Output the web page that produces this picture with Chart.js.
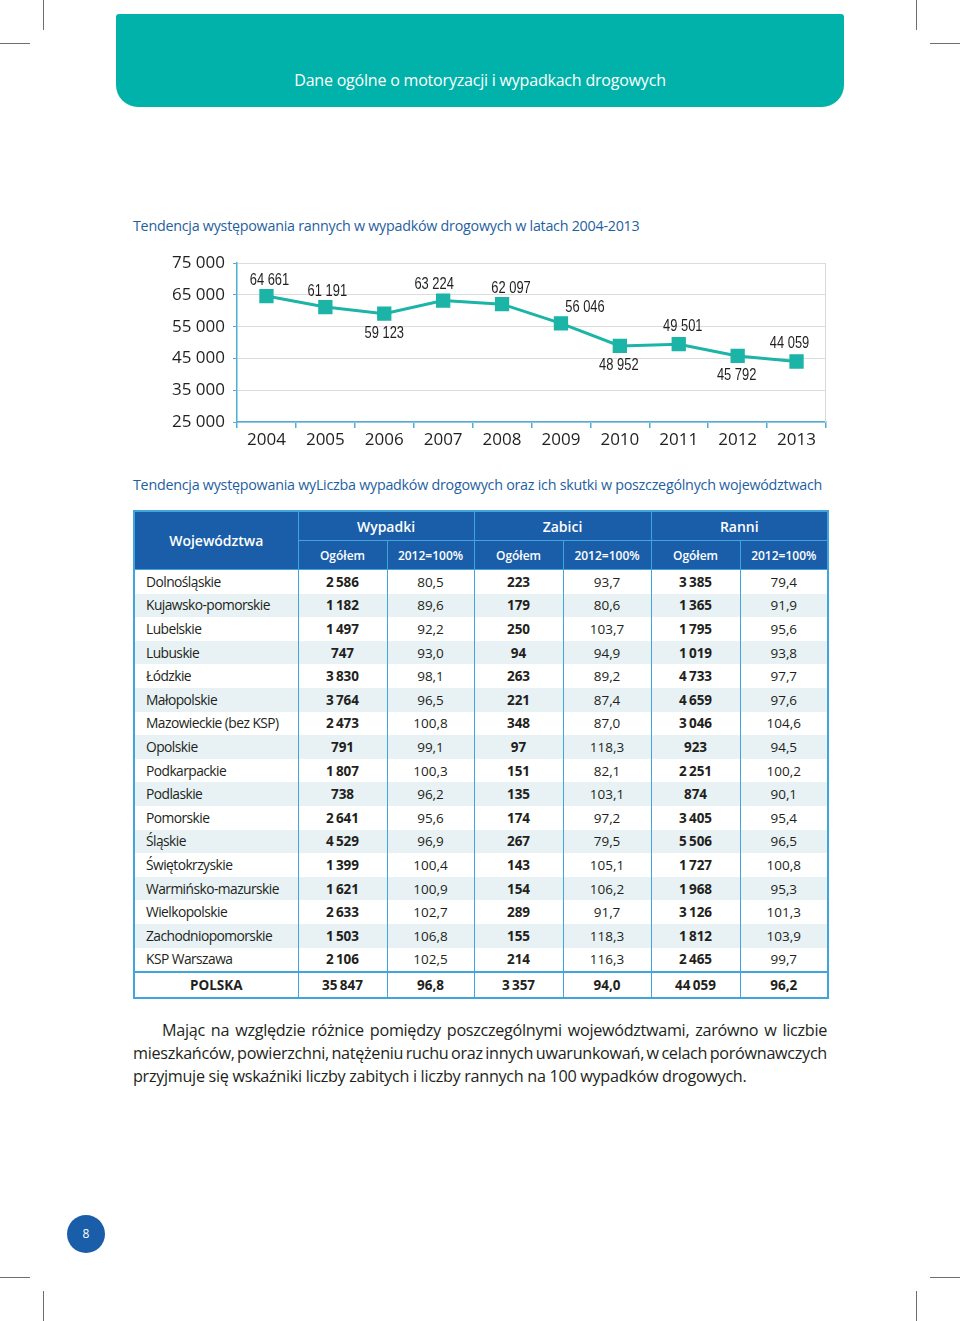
<!DOCTYPE html>
<html lang="pl">
<head>
<meta charset="utf-8">
<title>Dane ogólne o motoryzacji i wypadkach drogowych</title>
<script src="https://cdn.jsdelivr.net/npm/chart.js@4"></script>
<style>
  html, body { margin: 0; padding: 0; background: #fff; }
  body { width: 960px; height: 1321px; position: relative; overflow: hidden;
         font-family: "Open Sans", "Noto Sans", sans-serif; color: #231f20; }
  .crop { position: absolute; background: #6d6e71; }
  .banner { position: absolute; left: 116px; top: 14px; width: 728px; height: 93px;
            background: #00b2a9; border-radius: 3px 3px 22px 22px; }
  .banner span { position: absolute; left: 0; right: 0; top: 55px; text-align: center;
                 color: #fff; font-size: 16px; letter-spacing: -0.2px; }
  .title { position: absolute; left: 133px; color: #1f5f9f; font-size: 14.3px; letter-spacing: -0.25px; white-space: nowrap; }
  #chartBox { position: absolute; left: 133px; top: 245px; width: 697px; height: 215px; }
  table { position: absolute; left: 133px; top: 510px; width: 694px; border-collapse: collapse;
          table-layout: fixed; font-size: 13.5px; border: 2px solid #41a4dd; }
  th, td { border-left: 1.5px solid #41a4dd; border-right: 1.5px solid #41a4dd; padding: 0; text-align: center; }
  thead th { background: #1a5ea9; color: #fff; border: 1.5px solid #41a4dd; height: 28px; }
  thead tr:first-child th { font-size: 14px; font-weight: 600; }
  thead tr:nth-child(2) th { font-size: 12px; font-weight: 600; }
  tbody td { height: 23.6px; line-height: 16px; }
  tbody tr:nth-child(even) td { background: #e8f2f4; }
  tbody td:first-child { text-align: left; padding-left: 11px; font-size: 13.8px; letter-spacing: -0.55px; }
  td.b { font-weight: 700; }
  tfoot td { height: 24px; font-weight: 700; border-top: 2px solid #41a4dd; }
  .para { position: absolute; left: 133px; top: 1019px; width: 694px; font-size: 16.2px; line-height: 23px; letter-spacing: -0.3px; }
  .para span { display: block; text-align: justify; text-align-last: justify; white-space: nowrap; }
  .para span.first { text-indent: 29px; }
  .para span.tight { word-spacing: -1.6px; }
  .para span.last { text-align-last: left; }
  .pagenum { position: absolute; left: 67px; top: 1215px; width: 38px; height: 38px; border-radius: 50%;
             background: #1a5ea9; color: #fff; font-size: 12px; text-align: center; line-height: 38px; }
</style>
</head>
<body>
<div class="crop" style="left:43px;top:0;width:1px;height:30px"></div>
<div class="crop" style="left:0;top:43px;width:30px;height:1px"></div>
<div class="crop" style="left:916px;top:0;width:1px;height:30px"></div>
<div class="crop" style="left:930px;top:43px;width:30px;height:1px"></div>
<div class="crop" style="left:43px;top:1291px;width:1px;height:30px"></div>
<div class="crop" style="left:0;top:1277px;width:30px;height:1px"></div>
<div class="crop" style="left:916px;top:1291px;width:1px;height:30px"></div>
<div class="crop" style="left:930px;top:1277px;width:30px;height:1px"></div>

<div class="banner"><span>Dane ogólne o motoryzacji i wypadkach drogowych</span></div>

<div class="title" style="top:216px">Tendencja występowania rannych w wypadków drogowych w latach 2004-2013</div>
<div id="chartBox"><canvas id="injuredChart"></canvas></div>

<div class="title" style="top:475px">Tendencja występowania wyLiczba wypadków drogowych oraz ich skutki w poszczególnych województwach</div>
<table id="voivTable">
  <colgroup>
    <col style="width:164px"><col style="width:89px"><col style="width:87px"><col style="width:89px">
    <col style="width:88px"><col style="width:89px"><col style="width:88px">
  </colgroup>
  <thead>
    <tr><th rowspan="2">Województwa</th><th colspan="2">Wypadki</th><th colspan="2">Zabici</th><th colspan="2">Ranni</th></tr>
    <tr><th>Ogółem</th><th>2012=100%</th><th>Ogółem</th><th>2012=100%</th><th>Ogółem</th><th>2012=100%</th></tr>
  </thead>
  <tbody></tbody>
  <tfoot></tfoot>
</table>

<div class="para">
  <span class="first">Mając na względzie różnice pomiędzy poszczególnymi województwami, zarówno w liczbie</span>
  <span class="tight">mieszkańców, powierzchni, natężeniu ruchu oraz innych uwarunkowań, w celach porównawczych</span>
  <span class="last">przyjmuje się wskaźniki liczby zabitych i liczby rannych na 100 wypadków drogowych.</span>
</div>

<div class="pagenum">8</div>

<script>
// dane do wykresu
const years = ['2004', '2005', '2006', '2007', '2008', '2009', '2010', '2011', '2012', '2013'];
const injured = [64661, 61191, 59123, 63224, 62097, 56046, 48952, 49501, 45792, 44059];
const yTicks = [25000, 35000, 45000, 55000, 65000, 75000];

// dane do tabeli
const regions = ['Dolnośląskie', 'Kujawsko-pomorskie', 'Lubelskie', 'Lubuskie', 'Łódzkie', 'Małopolskie',
    'Mazowieckie (bez KSP)', 'Opolskie', 'Podkarpackie', 'Podlaskie', 'Pomorskie', 'Śląskie',
    'Świętokrzyskie', 'Warmińsko-mazurskie', 'Wielkopolskie', 'Zachodniopomorskie', 'KSP Warszawa'];
const accidents = [2586, 1182, 1497, 747, 3830, 3764, 2473, 791, 1807, 738, 2641, 4529, 1399, 1621, 2633, 1503, 2106];
const accidentsIdx = [80.5, 89.6, 92.2, 93.0, 98.1, 96.5, 100.8, 99.1, 100.3, 96.2, 95.6, 96.9, 100.4, 100.9, 102.7, 106.8, 102.5];
const killed = [223, 179, 250, 94, 263, 221, 348, 97, 151, 135, 174, 267, 143, 154, 289, 155, 214];
const killedIdx = [93.7, 80.6, 103.7, 94.9, 89.2, 87.4, 87.0, 118.3, 82.1, 103.1, 97.2, 79.5, 105.1, 106.2, 91.7, 118.3, 116.3];
const wounded = [3385, 1365, 1795, 1019, 4733, 4659, 3046, 923, 2251, 874, 3405, 5506, 1727, 1968, 3126, 1812, 2465];
const woundedIdx = [79.4, 91.9, 95.6, 93.8, 97.7, 97.6, 104.6, 94.5, 100.2, 90.1, 95.4, 96.5, 100.8, 95.3, 101.3, 103.9, 99.7];
const total = ['POLSKA', 35847, 96.8, 3357, 94.0, 44059, 96.2];

function fmtInt(v) {
    return String(v).replace(/\B(?=(\d{3})+(?!\d))/g, '\u2009');
}
function fmtSpace(v) {
    return String(v).replace(/\B(?=(\d{3})+(?!\d))/g, ' ');
}
function fmtDec(v) {
    return v.toFixed(1).replace('.', ',');
}

// tabela
let tbody = document.querySelector('#voivTable tbody');
regions.forEach(function (name, i) {
    let tr = document.createElement('tr');
    tr.innerHTML = '<td>' + name + '</td>' +
        '<td class="b">' + fmtInt(accidents[i]) + '</td><td>' + fmtDec(accidentsIdx[i]) + '</td>' +
        '<td class="b">' + fmtInt(killed[i]) + '</td><td>' + fmtDec(killedIdx[i]) + '</td>' +
        '<td class="b">' + fmtInt(wounded[i]) + '</td><td>' + fmtDec(woundedIdx[i]) + '</td>';
    tbody.appendChild(tr);
});
let foot = document.createElement('tr');
foot.innerHTML = total.map(function (v, i) {
    if (i === 0) return '<td style="text-align:center;padding:0">' + v + '</td>';
    return '<td>' + (i % 2 ? fmtInt(v) : fmtDec(v)) + '</td>';
}).join('');
document.querySelector('#voivTable tfoot').appendChild(foot);

// etykiety wartości nad/pod punktami + prawa krawędź wykresu
const pointLabels = {
    id: 'pointLabels',
    beforeDatasetsDraw(chart) {
        let ctx = chart.ctx, a = chart.chartArea;
        ctx.save();
        ctx.strokeStyle = '#d9d9d9';
        ctx.lineWidth = 1;
        ctx.beginPath();
        ctx.moveTo(a.right - 0.5, a.top);
        ctx.lineTo(a.right - 0.5, a.bottom);
        ctx.stroke();
        ctx.restore();
    },
    afterDatasetsDraw(chart, args, opts) {
        let ctx = chart.ctx;
        let meta = chart.getDatasetMeta(0);
        meta.data.forEach(function (pt, i) {
            let off = opts.offsets[i];
            ctx.save();
            ctx.translate(pt.x + off[0], pt.y + off[1]);
            ctx.scale(opts.squeeze, 1);
            ctx.font = opts.font;
            ctx.fillStyle = opts.color;
            ctx.textAlign = 'center';
            ctx.textBaseline = 'middle';
            ctx.fillText(fmtSpace(chart.data.datasets[0].data[i]), 0, 0);
            ctx.restore();
        });
    }
};

const axisBlue = '#4fb0d3';
const tickFont = { family: '"Open Sans", sans-serif', size: 17 };

new Chart(document.getElementById('injuredChart'), {
    type: 'line',
    data: {
        labels: years,
        datasets: [{
            data: injured,
            borderColor: '#1bb4a7',
            backgroundColor: '#1bb4a7',
            borderWidth: 3,
            pointStyle: 'rect',
            pointRadius: 8,
            pointHoverRadius: 8,
            tension: 0
        }]
    },
    options: {
        responsive: true,
        maintainAspectRatio: false,
        animation: false,
        events: [],
        layout: { autoPadding: false, padding: { top: 18, right: 4, left: 0, bottom: 0 } },
        plugins: {
            legend: { display: false },
            tooltip: { enabled: false },
            pointLabels: {
                font: '17px "Liberation Sans", Arial, sans-serif',
                squeeze: 0.76,
                color: '#231f20',
                offsets: [[3, -16], [2, -16], [0, 20], [-9, -16], [9, -16], [24, -16], [-1, 19], [4, -18], [-1, 19], [-7, -18]]
            }
        },
        scales: {
            x: {
                offset: true,
                grid: { display: true, offset: true, drawOnChartArea: false, color: axisBlue, tickColor: axisBlue, tickLength: 6, lineWidth: 1.5 },
                border: { color: axisBlue, width: 1.5 },
                ticks: { color: '#231f20', font: tickFont, padding: 2, maxRotation: 0 },
                afterFit: function (scale) { scale.height = 38; }
            },
            y: {
                min: 25000,
                max: 75000,
                afterBuildTicks: function (scale) {
                    scale.ticks = yTicks.map(function (v) { return { value: v }; });
                },
                grid: { color: '#dcdcdc', tickColor: axisBlue, tickLength: 4, lineWidth: 1 },
                border: { color: axisBlue, width: 1.5 },
                ticks: { color: '#231f20', font: tickFont, padding: 8, callback: function (v) { return fmtSpace(v); } },
                afterFit: function (scale) { scale.width = 104; }
            }
        }
    },
    plugins: [pointLabels]
});
</script>
</body>
</html>
